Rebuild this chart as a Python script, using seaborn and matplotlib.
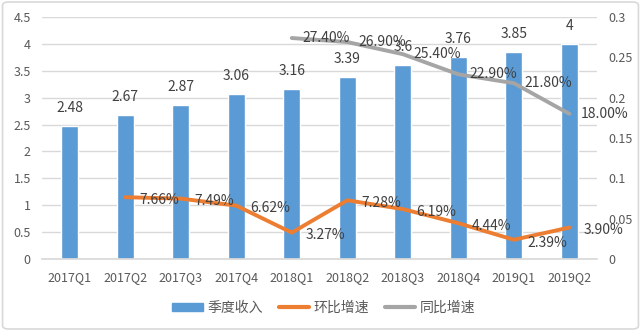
import matplotlib
matplotlib.use("Agg")
import matplotlib.pyplot as plt
import seaborn as sns
import pandas as pd
from matplotlib.patches import FancyBboxPatch, Patch
from matplotlib.lines import Line2D

quarters = ["2017Q1", "2017Q2", "2017Q3", "2017Q4", "2018Q1", "2018Q2",
            "2018Q3", "2018Q4", "2019Q1", "2019Q2"]
revenue = [2.48, 2.67, 2.87, 3.06, 3.16, 3.39, 3.6, 3.76, 3.85, 4]
qoq_quarters = quarters[1:]
qoq = [0.0766, 0.0749, 0.0662, 0.0327, 0.0728, 0.0619, 0.0444, 0.0239, 0.0390]
yoy_quarters = quarters[4:]
yoy = [0.274, 0.269, 0.254, 0.229, 0.218, 0.180]
left_ticks = [0, 0.5, 1, 1.5, 2, 2.5, 3, 3.5, 4, 4.5]
right_ticks = [0, 0.05, 0.1, 0.15, 0.2, 0.25, 0.3]

sns.set_theme(style="white")
plt.rcParams['font.family'] = ['Noto Sans CJK SC', 'DejaVu Sans']

BLUE = "#5B9BD5"
ORANGE = "#ED7D31"
GRAY = "#A5A5A5"
TXT = "#595959"

fig = plt.figure(figsize=(6.41, 3.31), dpi=100)
ax = fig.add_axes([0.0655, 0.2175, 0.866, 0.731])

df = pd.DataFrame({"q": quarters, "rev": revenue})
sns.barplot(data=df, x="q", y="rev", color=BLUE, width=0.31, saturation=1,
            ax=ax, zorder=2)
ax.set_ylim(0, 4.5)
ax.set_yticks(left_ticks)
ax.set_yticklabels([f"{t:g}" for t in left_ticks])
ax.set_xlim(-0.5, len(quarters) - 0.5)
ax.grid(axis="y", color="#D9D9D9", linewidth=1, zorder=0)
ax.set_axisbelow(True)
for s in ["top", "left", "right"]:
    ax.spines[s].set_visible(False)
ax.spines["bottom"].set_color("#D9D9D9")
ax.set_xlabel("")
ax.set_ylabel("")
ax.tick_params(axis="both", length=0, labelsize=9, colors=TXT, pad=8)
ax.tick_params(axis="x", pad=9)
for c in ax.containers:
    ax.bar_label(c, labels=[f"{v:g}" for v in revenue], padding=8,
                 fontsize=10, color="#404040")

ax2 = ax.twinx()
qoq_x = [quarters.index(q) for q in qoq_quarters]
yoy_x = [quarters.index(q) for q in yoy_quarters]
sns.lineplot(x=qoq_x, y=qoq, color=ORANGE, linewidth=2.8, ax=ax2)
sns.lineplot(x=yoy_x, y=yoy, color=GRAY, linewidth=2.8, ax=ax2)
ax2.set_ylim(0, 0.3)
ax2.set_yticks(right_ticks)
ax2.set_yticklabels([f"{t:g}" for t in right_ticks])
for s in ["top", "left", "right", "bottom"]:
    ax2.spines[s].set_visible(False)
ax2.tick_params(axis="y", length=0, labelsize=9, colors=TXT, pad=8)
ax2.grid(False)
ax.set_xlim(-0.5, len(quarters) - 0.5)

for x, v in zip(qoq_x, qoq):
    ax2.annotate(f"{v*100:.2f}%", (x, v), xytext=(10, -2),
                 textcoords="offset points", ha="left", va="center",
                 fontsize=10, color="#404040")
for x, v in zip(yoy_x, yoy):
    ax2.annotate(f"{v*100:.2f}%", (x, v), xytext=(8, 0),
                 textcoords="offset points", ha="left", va="center",
                 fontsize=10, color="#404040")

handles = [Patch(facecolor=BLUE, edgecolor=BLUE),
           Line2D([0], [0], color=ORANGE, linewidth=3),
           Line2D([0], [0], color=GRAY, linewidth=3)]
fig.legend(handles, ["季度收入", "环比增速", "同比增速"], loc="center",
           bbox_to_anchor=(0.505, 0.0695), ncol=3, frameon=False, fontsize=10,
           labelcolor=TXT, handlelength=2.2, handleheight=0.55,
           columnspacing=1.15, handletextpad=0.3)

border = FancyBboxPatch((0.004, 0.006), 0.992, 0.988,
                        boxstyle="round,pad=0,rounding_size=0.01",
                        transform=fig.transFigure, facecolor="none",
                        edgecolor="#D9D9D9", linewidth=1.2)
fig.patches.append(border)

fig.savefig("out.png", dpi=100)
